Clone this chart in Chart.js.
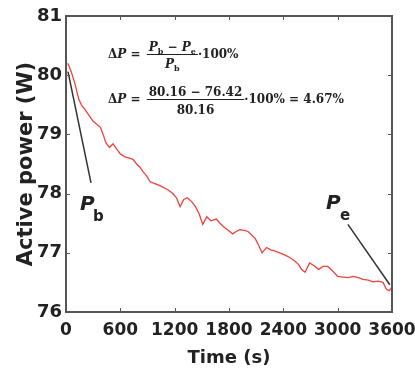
<!DOCTYPE html>
<html>
<head>
<meta charset="utf-8">
<script src="https://cdn.jsdelivr.net/npm/chart.js@4"></script>
<style>
  body { margin: 0; background: #fff; }
</style>
</head>
<body>
<canvas id="powerChart" width="415" height="374"></canvas>
<script>
var times = [20, 60, 100, 140, 170, 210, 250, 300, 340, 380, 410, 440, 480, 520, 560, 600,
  650, 700, 740, 780, 815, 850, 890, 930, 980, 1030, 1070, 1120, 1180, 1220, 1260, 1300,
  1340, 1390, 1430, 1470, 1510, 1555, 1600, 1660, 1700, 1740, 1790, 1840, 1880, 1920,
  1970, 2010, 2050, 2090, 2130, 2165, 2215, 2260, 2310, 2360, 2420, 2470, 2520, 2570,
  2600, 2640, 2690, 2740, 2790, 2840, 2890, 2940, 3000, 3060, 3120, 3170, 3230, 3280,
  3340, 3390, 3450, 3500, 3540, 3570, 3600];
var power = [80.20, 80.05, 79.85, 79.60, 79.50, 79.42, 79.33, 79.22, 79.17, 79.12, 79.00,
  78.86, 78.78, 78.84, 78.75, 78.67, 78.62, 78.60, 78.58, 78.50, 78.45, 78.37, 78.30,
  78.20, 78.17, 78.14, 78.11, 78.07, 78.00, 77.93, 77.78, 77.90, 77.93, 77.86, 77.78,
  77.66, 77.48, 77.61, 77.54, 77.57, 77.50, 77.44, 77.38, 77.32, 77.36, 77.39, 77.38,
  77.36, 77.30, 77.24, 77.12, 77.00, 77.09, 77.05, 77.03, 77.00, 76.96, 76.92, 76.87,
  76.80, 76.72, 76.67, 76.83, 76.78, 76.72, 76.77, 76.77, 76.70, 76.60, 76.59, 76.58,
  76.60, 76.58, 76.55, 76.54, 76.51, 76.52, 76.50, 76.38, 76.36, 76.42];

// pointer lines for the P_b and P_e labels
var pbLine = [{x: 22, y: 80.06}, {x: 276, y: 78.18}];
var peLine = [{x: 3113, y: 77.48}, {x: 3576, y: 76.46}];

var xTicks = [0, 600, 1200, 1800, 2400, 3000, 3600];
var yTicks = [76, 77, 78, 79, 80, 81];

var points = times.map(function(t, i) { return {x: t, y: power[i]}; });

var FRAME = '#555';
var SANS = '"DejaVu Sans", sans-serif';
var SERIF = '"DejaVu Serif", serif';

// draw a run of text pieces [text, font, dy], left or centered
var drawRuns = function(ctx, parts, x, y, align) {
  var w = 0;
  parts.forEach(function(p) { ctx.font = p[1]; w += ctx.measureText(p[0]).width; });
  var cx = align === 'center' ? x - w / 2 : x;
  parts.forEach(function(p) {
    ctx.font = p[1];
    ctx.fillText(p[0], cx, y + (p[2] || 0));
    cx += ctx.measureText(p[0]).width;
  });
  return w;
};

var framePlugin = {
  id: 'frame',
  afterDatasetsDraw: function(chart) {
    var ctx = chart.ctx, ca = chart.chartArea;
    var xs = chart.scales.x, ys = chart.scales.y;
    ctx.save();
    ctx.strokeStyle = FRAME;
    ctx.lineWidth = 1;
    // inward ticks on all four sides
    xTicks.slice(1, -1).forEach(function(v) {
      var px = Math.round(xs.getPixelForValue(v)) + 0.5;
      ctx.beginPath();
      ctx.moveTo(px, ca.bottom); ctx.lineTo(px, ca.bottom - 4);
      ctx.moveTo(px, ca.top); ctx.lineTo(px, ca.top + 4);
      ctx.stroke();
    });
    yTicks.slice(1, -1).forEach(function(v) {
      var py = Math.round(ys.getPixelForValue(v)) + 0.5;
      ctx.beginPath();
      ctx.moveTo(ca.left, py); ctx.lineTo(ca.left + 4, py);
      ctx.moveTo(ca.right, py); ctx.lineTo(ca.right - 4, py);
      ctx.stroke();
    });
    ctx.lineWidth = 2;
    ctx.strokeRect(ca.left, ca.top, ca.right - ca.left, ca.bottom - ca.top);
    ctx.restore();
  },
  afterDraw: function(chart) {
    var ctx = chart.ctx, ca = chart.chartArea;
    var xs = chart.scales.x, ys = chart.scales.y;
    var b = 'bold 12px ' + SERIF, bi = 'italic bold 12px ' + SERIF, sub = 'bold 8px ' + SERIF;
    ctx.save();
    ctx.fillStyle = '#222';
    ctx.strokeStyle = '#222';
    ctx.lineWidth = 1;
    ctx.textBaseline = 'alphabetic';

    // formula 1
    var x0 = ca.left + 42, y1 = ca.top + 42;
    var w = drawRuns(ctx, [['Δ', b], ['P', bi], [' = ', b]], x0, y1, 'left');
    var fx = x0 + w + 2;
    var num1 = [['P', bi], ['b', sub, 3], [' − ', b], ['P', bi], ['e', sub, 3]];
    var nw = 0;
    num1.forEach(function(p) { ctx.font = p[1]; nw += ctx.measureText(p[0]).width; });
    drawRuns(ctx, num1, fx + nw / 2 + 2, y1 - 7, 'center');
    ctx.beginPath(); ctx.moveTo(fx, y1 - 3.5); ctx.lineTo(fx + nw + 4, y1 - 3.5); ctx.stroke();
    drawRuns(ctx, [['P', bi], ['b', sub, 3]], fx + nw / 2 + 2, y1 + 10, 'center');
    drawRuns(ctx, [['·100%', b]], fx + nw + 4, y1, 'left');

    // formula 2
    var y2 = ca.top + 87;
    w = drawRuns(ctx, [['Δ', b], ['P', bi], [' = ', b]], x0, y2, 'left');
    fx = x0 + w + 2;
    ctx.font = b;
    nw = ctx.measureText('80.16 − 76.42').width;
    drawRuns(ctx, [['80.16 − 76.42', b]], fx + nw / 2 + 2, y2 - 7, 'center');
    ctx.beginPath(); ctx.moveTo(fx, y2 - 3.5); ctx.lineTo(fx + nw + 4, y2 - 3.5); ctx.stroke();
    drawRuns(ctx, [['80.16', b]], fx + nw / 2 + 2, y2 + 11, 'center');
    drawRuns(ctx, [['·100% = 4.67%', b]], fx + nw + 4, y2, 'left');

    // P_b and P_e labels at the ends of their pointer lines
    var bx = xs.getPixelForValue(pbLine[1].x), by = ys.getPixelForValue(pbLine[1].y);
    ctx.font = 'italic bold 20px ' + SANS;
    ctx.fillText('P', bx - 11, by + 27);
    ctx.font = 'bold 15px ' + SANS;
    ctx.fillText('b', bx + 2, by + 38);
    var ex = xs.getPixelForValue(peLine[0].x), ey = ys.getPixelForValue(peLine[0].y);
    ctx.font = 'italic bold 20px ' + SANS;
    ctx.fillText('P', ex - 22, ey - 15);
    ctx.font = 'bold 15px ' + SANS;
    ctx.fillText('e', ex - 8, ey - 4);
    ctx.restore();
  }
};

new Chart(document.getElementById('powerChart'), {
  type: 'line',
  data: {
    datasets: [{
      data: points,
      borderColor: '#f0413c',
      borderWidth: 1.3,
      pointRadius: 0,
      tension: 0
    }, {
      data: pbLine,
      borderColor: '#333',
      borderWidth: 1.5,
      pointRadius: 0
    }, {
      data: peLine,
      borderColor: '#333',
      borderWidth: 1.5,
      pointRadius: 0
    }]
  },
  options: {
    responsive: false,
    animation: false,
    layout: { padding: { top: 16, right: 23, left: 0, bottom: 0 } },
    plugins: {
      legend: { display: false },
      tooltip: { enabled: false }
    },
    scales: {
      x: {
        type: 'linear',
        min: 0,
        max: 3600,
        afterBuildTicks: function(scale) {
          scale.ticks = xTicks.map(function(v) { return {value: v}; });
        },
        afterFit: function(scale) {
          scale.height = 62;
          scale.paddingLeft = 0;
          scale.paddingRight = 0;
        },
        grid: { display: false, drawTicks: false },
        border: { display: false },
        ticks: {
          color: '#222',
          padding: 8,
          autoSkip: false,
          maxRotation: 0,
          minRotation: 0,
          callback: function(v) { return String(v); },
          font: { family: SANS, size: 17, weight: 'bold' }
        },
        title: {
          display: true,
          text: 'Time (s)',
          color: '#222',
          padding: { bottom: 5 },
          font: { family: SANS, size: 18, weight: 'bold' }
        }
      },
      y: {
        min: 76,
        max: 81,
        afterBuildTicks: function(scale) {
          scale.ticks = yTicks.map(function(v) { return {value: v}; });
        },
        afterFit: function(scale) {
          scale.width = 66;
          scale.paddingTop = 0;
          scale.paddingBottom = 0;
        },
        grid: { display: false, drawTicks: false },
        border: { display: false },
        ticks: {
          color: '#222',
          padding: 4,
          callback: function(v) { return String(v); },
          font: { family: SANS, size: 18, weight: 'bold' }
        },
        title: {
          display: true,
          text: 'Active power (W)',
          color: '#222',
          padding: { top: 14 },
          font: { family: SANS, size: 21, weight: 'bold' }
        }
      }
    }
  },
  plugins: [framePlugin]
});
</script>
</body>
</html>
